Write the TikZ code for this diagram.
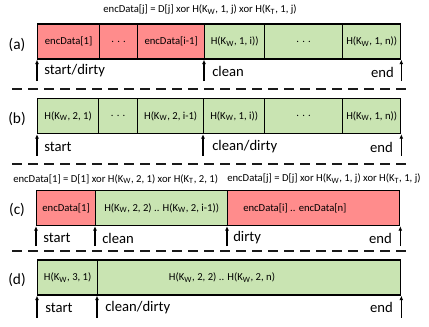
\documentclass[tikz,border=0pt]{standalone}
\usepackage{fontspec}
\setmainfont{Carlito}
\usepackage{xcolor}
\usepackage{tikz}
\usetikzlibrary{arrows.meta,positioning,calc}
\definecolor{encInk}{HTML}{000000}
\definecolor{encRule}{HTML}{1A1A1A}
\definecolor{encDirty}{HTML}{FF8C8C}
\definecolor{encClean}{HTML}{C9E4B2}
\newcommand{\encKW}{K\textsubscript{W}}
\newcommand{\encKT}{K\textsubscript{T}}
\tikzset{
  % Shared look of the write-pointer figure: one row of storage cells per
  % case, pointers underneath, position names beside the pointers.
  enc/base/.style={
    font=\fontsize{8pt}{9pt}\selectfont,
    text=encInk,
    >=Latex
  },
  enc/row label/.style={
    font=\fontsize{11.5pt}{12pt}\selectfont,
    text=encInk
  },
  enc/formula/.style={
    font=\fontsize{8pt}{9pt}\selectfont,
    text=encInk,
    inner sep=0pt
  },
  enc/cell/.style={
    draw=encInk,
    line width=1pt,
    minimum height=35*.75pt,
    inner sep=1pt,
    anchor=west,
    font=\fontsize{8pt}{9pt}\selectfont
  },
  enc/pointer/.style={
    -{Latex[length=3.4pt,width=3pt]},
    draw=encInk,
    line width=.9pt
  },
  enc/pos label/.style={
    font=\fontsize{11pt}{12pt}\selectfont,
    text=encInk,
    inner sep=0pt
  },
  enc/separator/.style={
    draw=encRule,
    line width=1pt,
    dash pattern=on 7.5pt off 4.5pt
  }
}
\begin{document}
\begin{tikzpicture}[
  enc/base,x=.75pt,y=-.75pt,
  dirty cell/.style={enc/cell,fill=encDirty},
  clean cell/.style={enc/cell,fill=encClean},
  tag/.style={enc/row label},
  place label/.style={enc/pos label,anchor=west},
  place end/.style={enc/pos label,anchor=east},
  note/.style={font=\fontsize{8pt}{9pt}\selectfont,inner sep=0pt}
]
  \path[use as bounding box] (0,0) rectangle (429,326);

  % (a) first pass: dirty prefix, clean suffix
  \node[enc/formula] (a-rule) at (200,10)
    {encData[j] = D[j] xor H(\encKW, 1, j) xor H(\encKT, 1, j)};
  \node[tag] (a-tag) at (17,45) {(a)};
  \foreach \i/\l/\r/\cellstyle/\txt in {
    1/37/99/dirty cell/{encData[1]},
    2/99/137/dirty cell/{. . .},
    3/137/204/dirty cell/{encData[i-1]},
    4/204/264/clean cell/{H(\encKW, 1, i))},
    5/264/342/clean cell/{. . .},
    6/342/400/clean cell/{H(\encKW, 1, n))}}
    \node[\cellstyle,minimum width=(\r-\l)*.75pt] (a-\i) at (\l,41.5) {\txt};
  \foreach \j/\anc in {1/a-1.south west,4/a-4.south west,6/a-6.south east} {
    \coordinate (a-tail-\j) at ([yshift=-16pt]\anc);
    \draw[enc/pointer] (a-tail-\j) -- (\anc);
  }
  \node[place label] (a-start) at (44,71) {start/dirty};
  \node[place label] (a-clean) at (212,71) {clean};
  \node[place end] (a-end) at (394,72) {end};
  \draw[enc/separator] (12,89) -- (410,89);

  % (b) second pass starts over the whole array
  \node[tag] (b-tag) at (17,119) {(b)};
  \foreach \i/\l/\r/\txt in {
    1/37/98/{H(\encKW, 2, 1)},
    2/98/137/{. . .},
    3/137/203/{H(\encKW, 2, i-1)},
    4/203/264/{H(\encKW, 1, i))},
    5/264/342/{. . .},
    6/342/400/{H(\encKW, 1, n))}}
    \node[clean cell,minimum width=(\r-\l)*.75pt] (b-\i) at (\l,116) {\txt};
  \foreach \j/\anc in {1/b-1.south west,4/b-4.south west,6/b-6.south east} {
    \coordinate (b-tail-\j) at ([yshift=-16pt]\anc);
    \draw[enc/pointer] (b-tail-\j) -- (\anc);
  }
  \node[place label] (b-start) at (44,147) {start};
  \node[place label] (b-clean) at (212,147) {clean/dirty};
  \node[place end] (b-end) at (393,147) {end};
  \draw[enc/separator] (12,164) -- (410,164);

  % (c) one cell rewritten, the tail still dirty
  \node[enc/formula,anchor=west] (c-rule-first) at (13,179)
    {encData[1] = D[1] xor H(\encKW, 2, 1) xor H(\encKT, 2, 1)};
  \node[enc/formula,anchor=west] (c-rule-rest) at (227,179)
    {encData[j] = D[j] xor H(\encKW, 1, j) xor H(\encKT, 1, j)};
  \node[tag] (c-tag) at (17,210) {(c)};
  \foreach \i/\l/\r/\cellstyle/\txt in {
    1/36/95/dirty cell/{encData[1]},
    2/95/227/clean cell/{H(\encKW, 2, 2) .. H(\encKW, 2, i-1))},
    3/227/399/dirty cell/{}}
    \node[\cellstyle,minimum width=(\r-\l)*.75pt] (c-\i) at (\l,208) {\txt};
  \node[note,anchor=west] (c-3-text) at (243,208) {encData[i] .. encData[n]};
  \foreach \j/\anc in {1/c-1.south west,2/c-2.south west,3/c-3.south west,4/c-3.south east} {
    \coordinate (c-tail-\j) at ([yshift=-15pt]\anc);
    \draw[enc/pointer] (c-tail-\j) -- (\anc);
  }
  \node[place label] (c-start) at (43,238) {start};
  \node[place label] (c-clean) at (102,238) {clean};
  \node[place label] (c-dirty) at (233,238) {dirty};
  \node[place end] (c-end) at (392,238) {end};
  \draw[enc/separator] (12,251) -- (410,251);

  % (d) third pass
  \node[tag] (d-tag) at (17,280) {(d)};
  \foreach \i/\l/\r/\txt in {
    1/37/97/{H(\encKW, 3, 1)},
    2/97/400/{}}
    \node[clean cell,minimum width=(\r-\l)*.75pt] (d-\i) at (\l,277.5) {\txt};
  \node[note] (d-2-text) at (222,277.5) {H(\encKW, 2, 2) .. H(\encKW, 2, n)};
  \foreach \j/\anc in {1/d-1.south west,2/d-2.south west,3/d-2.south east} {
    \coordinate (d-tail-\j) at ([yshift=-16.5pt]\anc);
    \draw[enc/pointer] (d-tail-\j) -- (\anc);
  }
  \node[place label] (d-start) at (45,308) {start};
  \node[place label] (d-clean) at (105,308) {clean/dirty};
  \node[place end] (d-end) at (393,307) {end};
\end{tikzpicture}
\end{document}
